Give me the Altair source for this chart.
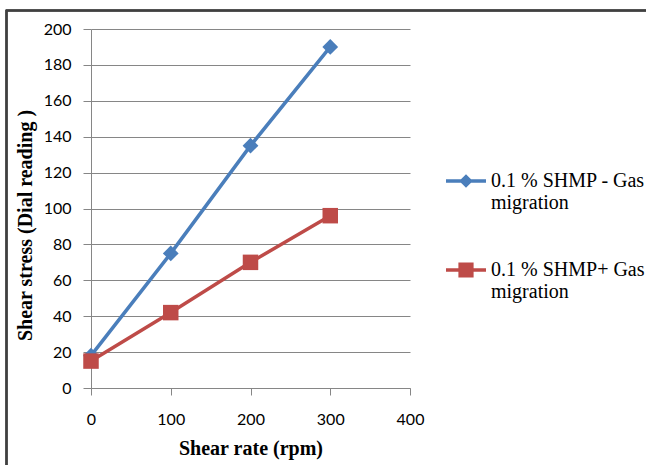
import altair as alt
import pandas as pd

# ---- data ----
shear_rate = [0, 100, 200, 300]
stress_no_gas = [18, 75, 135, 190]      # 0.1 % SHMP - Gas migration
stress_gas = [15, 42, 70, 96]           # 0.1 % SHMP+ Gas migration
series_names = ["0.1 % SHMP - Gas migration", "0.1 % SHMP+ Gas migration"]
series_colors = ["#4A7EBB", "#BE4B48"]
x_ticks = [0, 100, 200, 300, 400]
y_ticks = [0, 20, 40, 60, 80, 100, 120, 140, 160, 180, 200]

rows = []
for r, v in zip(shear_rate, stress_no_gas):
    rows.append({"rate": r, "stress": v, "series": series_names[0]})
for r, v in zip(shear_rate, stress_gas):
    rows.append({"rate": r, "stress": v, "series": series_names[1]})
df = pd.DataFrame(rows)

W, H = 319, 359
PAD_L, PAD_T = 91, 29
GRAY = "#868686"
SERIF = "Liberation Serif"
SANS = "Lato"


def legend_path(kind, dy=0.0, half=0.09):
    """line + marker glyph for the legend (unit box coords)."""
    line = f"M-1,{dy-half:.3f} L1,{dy-half:.3f} L1,{dy+half:.3f} L-1,{dy+half:.3f} Z"
    if kind == "diamond":
        r = 0.34
        m = f"M0,{dy-r:.3f} L{r},{dy:.3f} L0,{dy+r:.3f} L{-r},{dy:.3f} Z"
    else:
        r = 0.38
        m = f"M{-r},{dy-r:.3f} L{r},{dy-r:.3f} L{r},{dy+r:.3f} L{-r},{dy+r:.3f} Z"
    return line + " " + m


legend_shapes = [legend_path("diamond"), legend_path("square")]

x_axis = alt.Axis(
    values=x_ticks, grid=False, title="Shear rate (rpm)", labelFlush=False,
    domainColor=GRAY, tickColor=GRAY, tickSize=7, labelPadding=16,
    labelFont=SANS, labelFontSize=16, labelColor="#000000",
    titleFont=SERIF, titleFontSize=20, titleFontWeight="bold", titleColor="#000000",
    titleY=60, titleBaseline="middle",
)
y_axis = alt.Axis(
    values=y_ticks, grid=True, gridColor=GRAY, title="Shear stress (Dial reading )",
    domainColor=GRAY, tickColor=GRAY, tickSize=8, labelPadding=12, labelFlush=False,
    labelFont=SANS, labelFontSize=16, labelColor="#000000", labelOverlap=False,
    titleFont=SERIF, titleFontSize=20, titleFontWeight="bold", titleColor="#000000",
    titleAngle=270, titleX=-66, titleY=196, titleBaseline="middle", titleAlign="center",
)
x_enc = alt.X("rate:Q", scale=alt.Scale(domain=[0, 400]), axis=x_axis)
y_enc = alt.Y("stress:Q", scale=alt.Scale(domain=[0, 200]), axis=y_axis)

frame = alt.Chart(df).mark_rect(fillOpacity=0, stroke="#404040", strokeWidth=1.5).encode(
    x=alt.value(6.5 - PAD_L), x2=alt.value(W + 1000), y=alt.value(10.5 - PAD_T), y2=alt.value(H + 1000)
)


def series_layers(i, shape, size):
    base = alt.Chart(df).transform_filter(alt.datum.series == series_names[i])
    ln = base.mark_line(strokeWidth=3.5, color=series_colors[i]).encode(x=x_enc, y=y_enc)
    pt = base.mark_point(shape=shape, filled=True, size=size, opacity=1,
                         color=series_colors[i]).encode(x=x_enc, y=y_enc)
    return [ln, pt]


leg = alt.Legend(
    title=None, orient="none", legendX=354, legendY=131, padding=0,
    symbolSize=1600, symbolOpacity=1, labelFont=SERIF, labelFontSize=20,
    labelColor="#000000", labelLimit=400, labelOffset=4, rowPadding=36,
    labelBaseline="middle",
    labelExpr="[replace(datum.label, ' migration', ''), 'migration']",
)

legend_layer = alt.Chart(df).mark_point(filled=True, size=0, opacity=1).encode(
    x=x_enc, y=y_enc,
    color=alt.Color("series:N", scale=alt.Scale(domain=series_names, range=series_colors), legend=leg),
    shape=alt.Shape("series:N", scale=alt.Scale(domain=series_names, range=legend_shapes), legend=leg),
)

layers = [frame] + series_layers(0, "diamond", 250) + series_layers(1, "square", 240) + [legend_layer]

chart = alt.layer(*layers).properties(
    width=W, height=H,
    autosize=alt.AutoSizeParams(type="none"),
    padding={"left": PAD_L, "top": PAD_T, "right": 646 - PAD_L - W, "bottom": 465 - PAD_T - H},
    background="#ffffff",
).configure_view(stroke=None)

chart.save("out.html", embed_options={"renderer": "svg", "actions": False})
